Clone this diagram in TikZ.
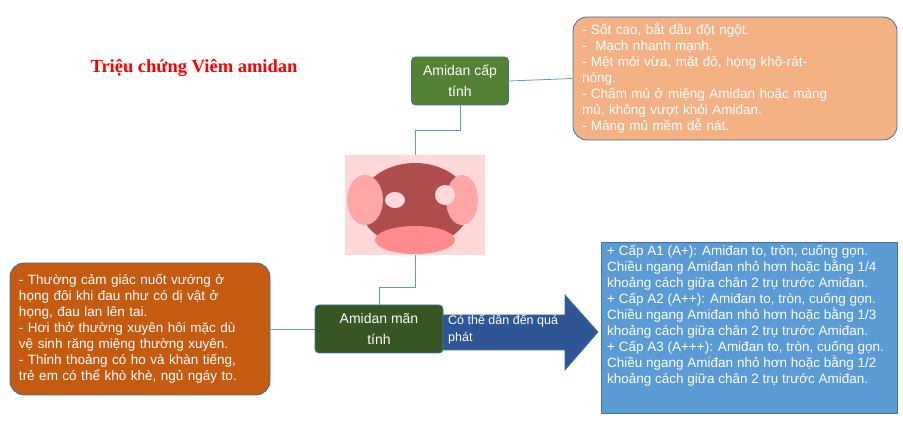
\documentclass[tikz,border=0pt]{standalone}
\usepackage{fontspec}
\setmainfont{Liberation Sans}
\newfontfamily\titlefont{Liberation Serif}
\definecolor{acutegreen}{HTML}{548235}
\definecolor{chronicgreen}{HTML}{375623}
\definecolor{peach}{HTML}{F4B183}
\definecolor{rust}{HTML}{C55A11}
\definecolor{skyblue}{HTML}{5B9BD5}
\definecolor{navyblue}{HTML}{2F5597}
\definecolor{edgeblue}{HTML}{41719C}
\definecolor{linkblue}{HTML}{5B9BD5}
\begin{document}
\begin{tikzpicture}[x=1pt, y=-1pt,
  every node/.style={inner sep=0pt, text=white, font=\fontsize{13.5}{16}\selectfont},
  topic/.style={draw=edgeblue, line width=0.8pt, rounded corners=4pt, minimum width=97pt, minimum height=48pt, align=center, font=\fontsize{14}{21}\selectfont},
  notebox/.style={draw=edgeblue, line width=0.8pt, rounded corners=14pt, align=left, inner xsep=9pt},
  link/.style={draw=linkblue, line width=0.8pt}]
    \useasboundingbox (0,0) rectangle (903,427);

    % Title
    \node[text=red, font=\titlefont\bfseries\fontsize{18.5}{22}\selectfont] (title) at (194,68) {Triệu chứng Viêm amidan};

    % Acute branch
    \node[topic, fill=acutegreen] (acute) at (460,81) {Amidan cấp\\tính};
    \node[notebox, fill=peach, minimum width=324pt, minimum height=123pt, text width=306pt] (acutenote) at (735,78.5)
      {- Sốt cao, bắt đầu đột ngột.\\
       -\ \ Mạch nhanh mạnh.\\
       - Mệt mỏi vừa, mặt đỏ, họng khô-rát-\\nóng.\\
       - Chấm mủ ở miệng Amiđan hoặc màng\\mủ, không vượt khỏi Amiđan.\\
       - Màng mủ mềm dễ nát.};

    % Photo placeholder
    \node[minimum width=140pt, minimum height=100pt, fill=white] (photo) at (415,205) {};
    \fill[red!15!white] (345,155) rectangle (485,255);
    \fill[red!55!black!70] (415,205) ellipse (55pt and 42pt);
    \fill[red!35!white] (365,200) ellipse (18pt and 25pt);
    \fill[red!35!white] (462,200) ellipse (16pt and 25pt);
    \fill[white!85!red] (395,200) ellipse (10pt and 8pt);
    \fill[white!85!red] (445,195) ellipse (10pt and 10pt);
    \fill[red!45!white] (415,240) ellipse (40pt and 14pt);

    % Chronic branch
    \node[topic, fill=chronicgreen, minimum width=128pt] (chronic) at (379,329) {Amidan mãn\\tính};
    \node[notebox, fill=rust, minimum width=260pt, minimum height=132pt, text width=242pt] (chronicnote) at (140,329)
      {- Thường cảm giác nuốt vướng ở\\họng đôi khi đau như có dị vật ở\\họng, đau lan lên tai.\\
       - Hơi thở thường xuyên hôi mặc dù\\vệ sinh răng miệng thường xuyên.\\
       - Thỉnh thoảng có ho và khàn tiếng,\\trẻ em có thể khò khè, ngủ ngáy to.};
    \coordinate (tip) at (598,332);
    \filldraw[fill=navyblue, draw=edgeblue, line width=0.8pt]
      (443,315) -- (565,315) -- (565,295) -- (tip) -- (565,370) -- (565,350) -- (443,350) -- cycle;
    \node[anchor=north west, align=left, font=\fontsize{12.5}{17}\selectfont] (leadtext) at (448,313) {Có thể dẫn đến quá\\phát};
    \node[draw=edgeblue, line width=0.8pt, fill=skyblue, minimum width=296pt, minimum height=171pt, anchor=north west] (grade) at (601,242) {};
    \node[anchor=north west, align=left] (gradetext) at (607,245)
      {+ Cấp A1 (A+): Amiđan to, tròn, cuống gọn.\\
       Chiều ngang Amiđan nhỏ hơn hoặc bằng 1/4\\
       khoảng cách giữa chân 2 trụ trước Amiđan.\\
       + Cấp A2 (A++): Amiđan to, tròn, cuống gọn.\\
       Chiều ngang Amiđan nhỏ hơn hoặc bằng 1/3\\
       khoảng cách giữa chân 2 trụ trước Amiđan.\\
       + Cấp A3 (A+++): Amiđan to, tròn, cuống gọn.\\
       Chiều ngang Amiđan nhỏ hơn hoặc bằng 1/2\\
       khoảng cách giữa chân 2 trụ trước Amiđan.};

    % Connectors
    \draw[link] (acute.south) -- ++(0,25) -| (photo.north);
    \draw[link] (acute.east) -- (acutenote.west);
    \draw[link] (photo.south) -- ++(0,32) -| (chronic.north);
    \draw[link] (chronicnote.east) -- (chronic.west);
\end{tikzpicture}
\end{document}
